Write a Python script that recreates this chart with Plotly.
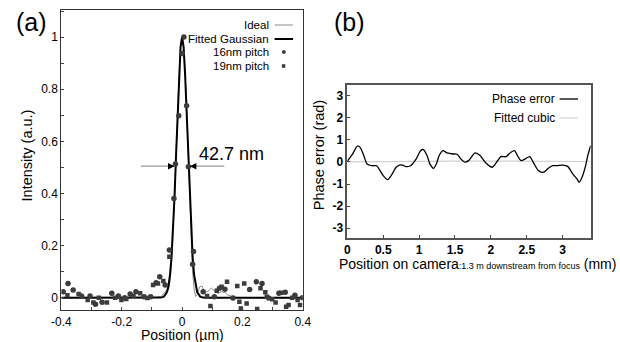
import plotly.graph_objects as go

# ---------------- data: panel (a) ----------------
x_ideal = [-0.4, -0.1, -0.07, -0.06, -0.052, -0.045, -0.04, -0.035, -0.03, -0.025, -0.02, -0.015, -0.01,
           -0.005, 0, 0.005, 0.01, 0.015, 0.02, 0.025, 0.03, 0.035, 0.04, 0.045, 0.05, 0.058, 0.066, 0.075,
           0.085, 0.097, 0.108, 0.118, 0.13, 0.142, 0.152, 0.165, 0.18, 0.4]
y_ideal = [0, 0, 0.003, 0.015, 0.028, 0.03, 0.06, 0.13, 0.24, 0.38, 0.54, 0.71, 0.86,
           0.96, 1.0, 0.97, 0.87, 0.72, 0.55, 0.38, 0.22, 0.10, 0.03, 0.005, 0.012, 0.042, 0.045, 0.02,
           0.025, 0.037, 0.025, 0.017, 0.023, 0.02, 0.01, 0.005, 0.0, 0]

x_gauss = [-0.4, -0.1, -0.08, -0.07, -0.06, -0.05, -0.045, -0.04, -0.035, -0.03, -0.025, -0.02, -0.015, -0.01,
           -0.005, 0, 0.005, 0.01, 0.015, 0.02, 0.025, 0.03, 0.035, 0.04, 0.045, 0.05, 0.06, 0.07, 0.08, 0.1, 0.4]
y_gauss = [0, 0, 0.0001, 0.0006, 0.0042, 0.022, 0.046, 0.088, 0.155, 0.254, 0.386, 0.544, 0.710, 0.859,
           0.963, 1.0, 0.963, 0.859, 0.710, 0.544, 0.386, 0.254, 0.155, 0.088, 0.046, 0.022, 0.0042, 0.0006, 0.0001, 0, 0]

x_16nm = [-0.394, -0.378, -0.361, -0.333, -0.305, -0.287, -0.265, -0.233, -0.211, -0.190, -0.172, -0.153,
          -0.126, -0.104, -0.086, -0.074, -0.056, -0.042, -0.027, -0.022, -0.011, 0.0, 0.006, 0.015, 0.021,
          0.038, 0.035, 0.070, 0.107, 0.124, 0.142, 0.169, 0.224, 0.246, 0.265, 0.287, 0.321, 0.342, 0.374, 0.399]
y_16nm = [0.023, 0.055, 0.030, 0.007, 0.007, -0.025, -0.017, 0.017, 0.007, 0.0, 0.014, 0.023,
          0.004, 0.004, 0.058, 0.081, 0.049, 0.183, 0.381, 0.513, 0.698, 0.937, 1.0, 0.737, 0.503,
          0.177, 0.129, 0.023, 0.004, 0.036, 0.033, -0.001, 0.032, 0.061, 0.055, -0.001, 0.017, 0.021, 0.010, 0.0]

x_19nm = [-0.380, -0.343, -0.313, -0.294, -0.276, -0.249, -0.222, -0.201, -0.185, -0.161, -0.139, -0.115,
          -0.096, -0.080, -0.062, -0.042, 0.083, 0.094, 0.115, 0.131, 0.149, 0.183, 0.190, 0.195, 0.206,
          0.214, 0.249, 0.260, 0.276, 0.281, 0.299, 0.310, 0.329, 0.345, 0.353, 0.365, 0.383, 0.391]
y_19nm = [0.010, 0.014, -0.009, -0.018, 0.0, -0.018, 0.0, -0.009, -0.005, 0.007, 0.017, -0.001,
          0.049, 0.055, 0.064, 0.157, 0.007, -0.032, 0.027, 0.042, 0.061, 0.045, -0.015, -0.041, 0.055,
          -0.022, -0.043, 0.036, 0.021, 0.004, -0.006, -0.018, 0.019, -0.035, -0.028, 0.0, -0.009, -0.028]

a_xticks = [-0.4, -0.2, 0, 0.2, 0.4]
a_xticklabels = ["-0.4", "-0.2", "0", "0.2", "0.4"]
a_yticks = [0, 0.2, 0.4, 0.6, 0.8, 1]
a_yticklabels = ["0", "0.2", "0.4", "0.6", "0.8", "1"]

fwhm_label = "42.7 nm"
fwhm_left, fwhm_right, fwhm_y = -0.025, 0.026, 0.505

# ---------------- data: panel (b) ----------------
x_phase = [0.0, 0.07, 0.14, 0.18, 0.23, 0.275, 0.34, 0.41, 0.455, 0.5, 0.56, 0.61, 0.68, 0.725, 0.77, 0.815,
           0.88, 0.96, 1.02, 1.06, 1.11, 1.15, 1.2, 1.24, 1.28, 1.33, 1.39, 1.47, 1.53, 1.58, 1.64, 1.69,
           1.78, 1.85, 1.92, 2.02, 2.08, 2.14, 2.21, 2.28, 2.33, 2.37, 2.42, 2.48, 2.54, 2.59, 2.66, 2.71,
           2.75, 2.8, 2.86, 2.92, 3.0, 3.07, 3.14, 3.2, 3.23, 3.27, 3.32, 3.35, 3.39]
y_phase = [0.03, 0.34, 0.72, 0.65, 0.28, -0.09, -0.17, -0.17, -0.39, -0.62, -0.8, -0.62, -0.24, -0.14, -0.14, -0.21,
           -0.17, 0.14, 0.51, 0.56, 0.29, -0.09, -0.29, -0.09, 0.29, 0.51, 0.41, 0.36, 0.35, 0.14, -0.01, 0.06,
           0.41, 0.29, -0.01, -0.24, -0.01, 0.24, 0.24, 0.44, 0.51, 0.29, 0.06, 0.14, 0.24, -0.01, -0.39, -0.47,
           -0.44, -0.29, -0.17, -0.17, -0.14, -0.2, -0.54, -0.77, -0.92, -0.69, -0.17, 0.29, 0.74]

x_cubic = [0, 0.5, 1, 1.5, 2, 2.5, 3, 3.39]
y_cubic = [0.0, 0.02, 0.03, 0.04, 0.04, 0.04, 0.03, 0.02]

b_xticks = [0, 0.5, 1, 1.5, 2, 2.5, 3]
b_xticklabels = ["0", "0.5", "1", "1.5", "2", "2.5", "3"]
b_yticks = [-3, -2, -1, 0, 1, 2, 3]
b_yticklabels = ["-3", "-2", "-1", "0", "1", "2", "3"]

FONT = "Arial, Liberation Sans, sans-serif"
W, H = 620, 342

def px_x(p):
    return p / W

def px_y(p):
    return 1 - p / H

fig = go.Figure()

fig.add_trace(go.Scatter(x=x_ideal, y=y_ideal, mode="lines", line=dict(color="#8c8c8c", width=1),
                         xaxis="x", yaxis="y", showlegend=False))
fig.add_trace(go.Scatter(x=x_gauss, y=y_gauss, mode="lines", line=dict(color="black", width=2),
                         xaxis="x", yaxis="y", showlegend=False))
fig.add_trace(go.Scatter(x=x_16nm, y=y_16nm, mode="markers",
                         marker=dict(symbol="circle", size=5.5, color="#3c3c3c"),
                         xaxis="x", yaxis="y", showlegend=False))
fig.add_trace(go.Scatter(x=x_19nm, y=y_19nm, mode="markers",
                         marker=dict(symbol="square", size=4.5, color="#3c3c3c"),
                         xaxis="x", yaxis="y", showlegend=False))

fig.add_trace(go.Scatter(x=x_cubic, y=y_cubic, mode="lines", line=dict(color="#cfcfcf", width=1.2),
                         xaxis="x2", yaxis="y2", showlegend=False))
fig.add_trace(go.Scatter(x=x_phase, y=y_phase, mode="lines",
                         line=dict(color="black", width=1.3, shape="spline", smoothing=0.7),
                         xaxis="x2", yaxis="y2", showlegend=False))

axis_common = dict(showgrid=False, zeroline=False, showline=True, mirror=True,
                   ticks="inside", ticklen=3, tickcolor="#444")

fig.update_layout(
    width=W, height=H, margin=dict(l=0, r=0, t=0, b=0),
    paper_bgcolor="white", plot_bgcolor="white",
    font=dict(family=FONT, color="black"),
    xaxis=dict(domain=[px_x(53), px_x(302)], range=[-0.4, 0.4], tickvals=a_xticks, ticktext=a_xticklabels,
               linecolor="#333", linewidth=1.2, anchor="y",
               tickfont=dict(family=FONT, size=12, color="black"),
               minor=dict(ticks="inside", ticklen=3, dtick=0.1, tickcolor="#444"), **axis_common),
    yaxis=dict(domain=[px_y(310), px_y(10)], range=[-0.047, 1.104], tickvals=a_yticks, ticktext=a_yticklabels,
               linecolor="#333", linewidth=1.2, anchor="x",
               tickfont=dict(family=FONT, size=12, color="black"),
               minor=dict(ticks="inside", ticklen=3, dtick=0.1, tickcolor="#444"), **axis_common),
    xaxis2=dict(domain=[px_x(348), px_x(599)], range=[0, 3.39], tickvals=b_xticks, ticktext=b_xticklabels,
                linecolor="#555", linewidth=1.5, anchor="y2",
                tickfont=dict(family=FONT, size=12, color="black", weight="bold"), **axis_common),
    yaxis2=dict(domain=[px_y(238), px_y(85)], range=[-3.44, 3.48], tickvals=b_yticks, ticktext=b_yticklabels,
                linecolor="#555", linewidth=1.5, anchor="x2",
                tickfont=dict(family=FONT, size=12, color="black", weight="bold"), **axis_common),
)

ann = []
shapes = []

def label(text, x, y, size, xanchor="center", yanchor="middle", angle=0, align="center"):
    ann.append(dict(text=text, x=px_x(x), y=px_y(y), xref="paper", yref="paper", xanchor=xanchor,
                    yanchor=yanchor, textangle=angle, align=align, showarrow=False,
                    font=dict(size=size, family=FONT, color="black")))

# panel labels
label("(a)", 4, 22, 25, xanchor="left")
label("(b)", 332, 22, 25, xanchor="left")

# axis titles
label("Intensity (a.u.)", 18, 155, 14.5, angle=-90)
label("Position (µm)", 178, 335, 14)
label("Phase error (rad)", 319, 155, 14.5, angle=-90)
label('Position on camera<span style="font-size:9px">:1.3 m downstream from focus</span> (mm)',
      337, 264, 14, xanchor="left", align="left")

# legend (a)
leg_a = [("Ideal", 25, "line_gray"), ("Fitted Gaussian", 39, "line_black"),
         ("16nm pitch", 52, "circle"), ("19nm pitch", 66, "square")]
for txt, yy, kind in leg_a:
    label(txt, 269, yy, 11.5, xanchor="right")
    if kind == "line_gray":
        shapes.append(dict(type="line", xref="paper", yref="paper", x0=px_x(273), x1=px_x(292),
                           y0=px_y(yy), y1=px_y(yy), line=dict(color="#8c8c8c", width=1)))
    elif kind == "line_black":
        shapes.append(dict(type="line", xref="paper", yref="paper", x0=px_x(273), x1=px_x(292),
                           y0=px_y(yy), y1=px_y(yy), line=dict(color="black", width=2)))
    elif kind == "circle":
        shapes.append(dict(type="circle", xref="paper", yref="paper", x0=px_x(280.5), x1=px_x(284.5),
                           y0=px_y(yy + 2), y1=px_y(yy - 2), fillcolor="#3c3c3c", line=dict(width=0)))
    else:
        shapes.append(dict(type="rect", xref="paper", yref="paper", x0=px_x(280.5), x1=px_x(284),
                           y0=px_y(yy + 1.8), y1=px_y(yy - 1.8), fillcolor="#3c3c3c", line=dict(width=0)))

# legend (b)
leg_b = [("Phase error", 99, "black", 1.3), ("Fitted cubic", 118, "#cfcfcf", 1.2)]
for txt, yy, col, wd in leg_b:
    label(txt, 564, yy, 12, xanchor="right")
    shapes.append(dict(type="line", xref="paper", yref="paper", x0=px_x(567), x1=px_x(586),
                       y0=px_y(yy), y1=px_y(yy), line=dict(color=col, width=wd)))

# FWHM marker
ann.append(dict(text=fwhm_label, x=0.0, y=fwhm_y, xref="x", yref="y", xanchor="left", yanchor="bottom",
                xshift=15, yshift=0, showarrow=False, font=dict(size=18, family=FONT, color="black")))
shapes.append(dict(type="line", xref="x", yref="y", x0=fwhm_left - 0.112, x1=fwhm_left - 0.005,
                   y0=fwhm_y, y1=fwhm_y, line=dict(color="#999", width=1.2)))
shapes.append(dict(type="line", xref="x", yref="y", x0=fwhm_right + 0.005, x1=fwhm_right + 0.114,
                   y0=fwhm_y, y1=fwhm_y, line=dict(color="#999", width=1.2)))
ann.append(dict(x=fwhm_left, y=fwhm_y, xref="x", yref="y", ax=-7, ay=0, showarrow=True, text="",
                arrowhead=2, arrowsize=1, arrowwidth=1.3, arrowcolor="black"))
ann.append(dict(x=fwhm_right, y=fwhm_y, xref="x", yref="y", ax=7, ay=0, showarrow=True, text="",
                arrowhead=2, arrowsize=1, arrowwidth=1.3, arrowcolor="black"))

fig.update_layout(annotations=ann, shapes=shapes)

fig.write_html("out.html", config={"displayModeBar": False},
               post_script="document.body.style.margin='0';document.body.style.padding='0';"
                           "window.dispatchEvent(new Event('resize'));")
